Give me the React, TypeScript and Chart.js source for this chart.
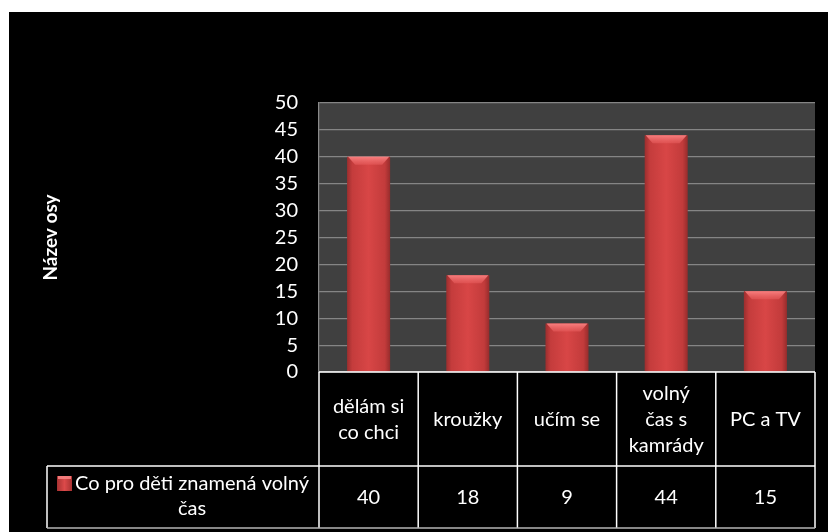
import React, { useEffect, useRef } from "react";
import { Chart, registerables } from "chart.js";

Chart.register(...registerables);

// ---- data ----
const categoryLines: string[][] = [
  ["dělám si", "co chci"],
  ["kroužky"],
  ["učím se"],
  ["volný", "čas s", "kamrády"],
  ["PC a TV"],
];
const categories: string[] = categoryLines.map((l) => l.join(" "));
const seriesName = "Co pro děti znamená volný čas";
const legendLines: string[] = ["Co pro děti znamená volný", "čas"];
const values: number[] = [40, 18, 9, 44, 15];
const yMin = 0;
const yMax = 50;
const yStep = 5;
const axisTitle = "Název osy";

const FONT = "Lato, 'Noto Sans', sans-serif";
const FS = 20;

const bgPlugin = {
  id: "bgPlugin",
  beforeDraw(chart: any) {
    const { ctx, chartArea: a, width, height } = chart;
    ctx.save();
    ctx.fillStyle = "#000000";
    ctx.fillRect(0, 0, width, height);
    ctx.fillStyle = "#404040";
    ctx.fillRect(a.left, a.top, a.right - a.left, a.bottom - a.top);
    ctx.restore();
  },
};

const bevelPlugin = {
  id: "bevelPlugin",
  afterDatasetsDraw(chart: any) {
    const { ctx } = chart;
    const meta = chart.getDatasetMeta(0);
    ctx.save();
    meta.data.forEach((el: any) => {
      const w = el.width;
      const l = el.x - w / 2;
      const r = el.x + w / 2;
      const t = el.y;
      const h = 8;
      const inset = 8;
      const g = ctx.createLinearGradient(0, t, 0, t + h);
      g.addColorStop(0, "rgba(250,130,130,0.95)");
      g.addColorStop(1, "rgba(230,90,90,0.6)");
      ctx.fillStyle = g;
      ctx.beginPath();
      ctx.moveTo(l + 1, t);
      ctx.lineTo(r - 1, t);
      ctx.lineTo(r - inset, t + h);
      ctx.lineTo(l + inset, t + h);
      ctx.closePath();
      ctx.fill();
    });
    ctx.restore();
  },
};

const tablePlugin = {
  id: "tablePlugin",
  afterDraw(chart: any) {
    const { ctx, chartArea: a } = chart;
    const xs = chart.scales.x;
    const n = values.length;
    const edges: number[] = [];
    for (let i = 0; i <= n; i++) edges.push(xs.getPixelForValue(i - 0.5));
    const r1t = a.bottom;
    const r1b = a.bottom + 94;
    const r2b = a.bottom + 156;
    const legL = 38;

    const line = (x1: number, y1: number, x2: number, y2: number) => {
      ctx.beginPath();
      ctx.moveTo(x1, y1);
      ctx.lineTo(x2, y2);
      ctx.stroke();
    };

    ctx.save();
    ctx.strokeStyle = "#ffffff";
    ctx.lineWidth = 1.5;
    line(edges[0], r1t, edges[n], r1t);
    edges.forEach((e) => line(e, r1t, e, r2b));
    line(legL, r1b, edges[n], r1b);
    line(legL, r1b, legL, r2b);
    ctx.strokeStyle = "#b4b4b4";
    line(legL, r2b, edges[n], r2b);

    ctx.fillStyle = "#ffffff";
    ctx.font = `${FS}px ${FONT}`;
    ctx.textAlign = "center";
    ctx.textBaseline = "middle";
    const lh = 26;
    categoryLines.forEach((lines, i) => {
      const cx = xs.getPixelForValue(i);
      const cy = (r1t + r1b) / 2 + 1;
      lines.forEach((t, j) => {
        ctx.fillText(t, cx, cy + (j - (lines.length - 1) / 2) * lh);
      });
    });
    values.forEach((v, i) => {
      ctx.fillText(String(v), xs.getPixelForValue(i), (r1b + r2b) / 2 + 1);
    });

    // legend cell
    const cellC = (legL + edges[0]) / 2;
    const w1 = ctx.measureText(legendLines[0]).width;
    const mk = 15;
    const gap = 3;
    const start = cellC - (mk + gap + w1) / 2;
    const textC = start + mk + gap + w1 / 2;
    const ly = (r1b + r2b) / 2 - 1;
    const y1 = ly - 12.5;
    const y2 = ly + 12.5;
    const mg = ctx.createLinearGradient(start, 0, start + mk, 0);
    mg.addColorStop(0, "#a83232");
    mg.addColorStop(0.5, "#dc4a4a");
    mg.addColorStop(1, "#a83232");
    ctx.fillStyle = mg;
    ctx.fillRect(start, y1 - mk / 2, mk, mk);
    ctx.fillStyle = "rgba(245,130,130,0.9)";
    ctx.fillRect(start + 1, y1 - mk / 2, mk - 2, 3);
    ctx.fillStyle = "#ffffff";
    ctx.fillText(legendLines[0], textC, y1);
    ctx.fillText(legendLines[1], textC, y2);
    ctx.restore();
  },
};

export default function App() {
  const ref = useRef<HTMLCanvasElement | null>(null);

  useEffect(() => {
    if (!ref.current) return;
    const chart = new Chart(ref.current, {
      type: "bar",
      data: {
        labels: categories,
        datasets: [
          {
            label: seriesName,
            data: values,
            barPercentage: 0.434,
            categoryPercentage: 1,
            borderWidth: 0,
            backgroundColor: (c: any) => {
              const chart = c.chart;
              const xs = chart.scales?.x;
              if (!chart.chartArea || !xs || c.dataIndex === undefined) return "#d04040";
              const cx = xs.getPixelForValue(c.dataIndex);
              const w = (xs.width / values.length) * 0.434;
              const g = chart.ctx.createLinearGradient(cx - w / 2, 0, cx + w / 2, 0);
              g.addColorStop(0, "#9c2e2e");
              g.addColorStop(0.12, "#c43c3c");
              g.addColorStop(0.5, "#d84646");
              g.addColorStop(0.88, "#c23b3b");
              g.addColorStop(1, "#962c2c");
              return g;
            },
          },
        ],
      },
      options: {
        animation: false,
        responsive: false,
        layout: { padding: { top: 91, right: 13, left: 0, bottom: 0 } },
        plugins: {
          legend: { display: false },
          tooltip: { enabled: false },
        },
        scales: {
          x: {
            grid: { display: false },
            border: { display: false },
            ticks: { display: false },
            afterFit: (s: any) => {
              s.height = 160;
            },
          },
          y: {
            min: yMin,
            max: yMax,
            ticks: {
              stepSize: yStep,
              autoSkip: false,
              color: "#ffffff",
              padding: 21,
              font: { family: FONT, size: FS },
            },
            grid: { color: "#858585", lineWidth: 1.2, drawTicks: false },
            border: { display: true, color: "#8a8a8a", width: 1.2 },
            title: {
              display: true,
              text: axisTitle,
              color: "#ffffff",
              font: { family: FONT, size: 19, weight: "bold" },
              padding: { top: 30, bottom: 0 },
            },
            afterFit: (s: any) => {
              s.width = 310;
            },
          },
        },
      },
      plugins: [bgPlugin, bevelPlugin, tablePlugin],
    });
    return () => chart.destroy();
  }, []);

  return (
    <div style={{ position: "absolute", left: 9, top: 12, width: 819, height: 520 }}>
      <canvas ref={ref} width={819} height={520} style={{ display: "block" }} />
    </div>
  );
}
